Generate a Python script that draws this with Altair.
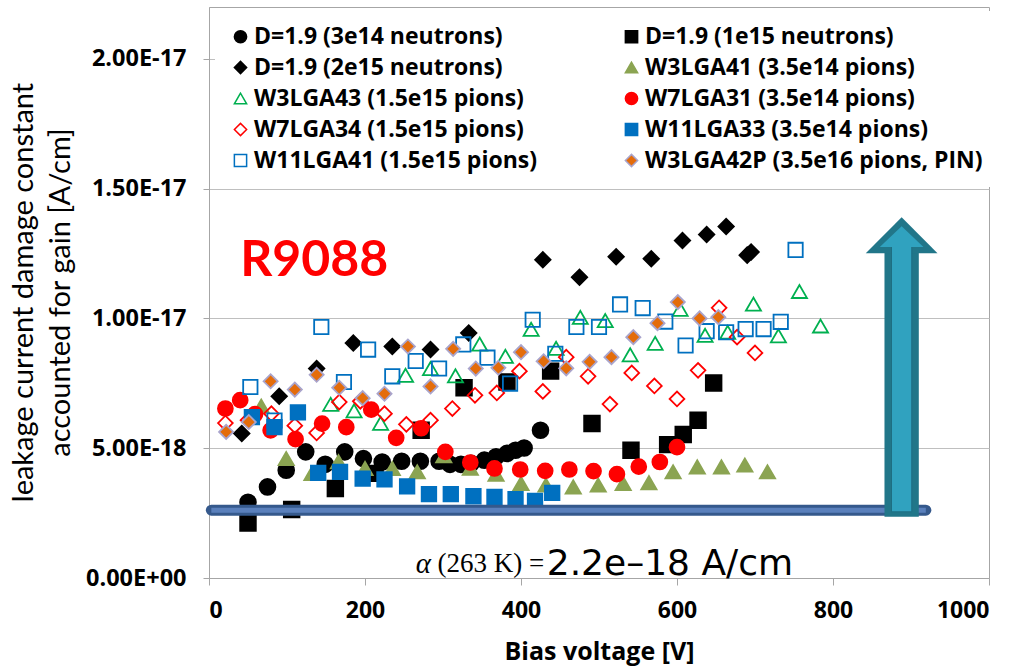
import altair as alt
import pandas as pd

# ---------------- data (values in units of 1e-18 A/cm) ----------------
series_names = [
    "D=1.9 (3e14 neutrons)", "D=1.9 (1e15 neutrons)",
    "D=1.9 (2e15 neutrons)", "W3LGA41 (3.5e14 pions)",
    "W3LGA43 (1.5e15 pions)", "W7LGA31 (3.5e14 pions)",
    "W7LGA34 (1.5e15 pions)", "W11LGA33 (3.5e14 pions)",
    "W11LGA41 (1.5e15 pions)", "W3LGA42P (3.5e16 pions, PIN)",
]

s1_v = [50, 75, 99, 124, 149, 174, 198, 222, 247, 271, 295, 309, 323, 336, 353, 368, 382, 393, 404, 425]
s1_y = [2.92, 3.51, 4.15, 4.86, 4.38, 4.86, 4.60, 4.47, 4.50, 4.50, 4.50, 4.38, 4.38, 4.42, 4.54, 4.67, 4.80, 4.92, 5.01, 5.69]

s2_v = [50, 106, 162, 213, 272, 327, 382, 438, 491, 541, 588, 608, 627, 647]
s2_y = [2.12, 2.64, 3.45, 4.03, 5.69, 7.33, 7.55, 7.97, 5.95, 4.92, 5.14, 5.53, 6.08, 7.51]

s3_v = [42, 90, 138, 185, 235, 284, 333, 428, 475, 522, 567, 607, 638, 663, 690, 695]
s3_y = [5.57, 7.00, 8.07, 9.05, 8.92, 8.80, 9.44, 12.26, 11.59, 12.38, 12.30, 13.00, 13.23, 13.54, 12.44, 12.56]

s4_v = [67, 99, 132, 166, 200, 235, 267, 301, 335, 368, 400, 432, 467, 499, 531, 564, 595, 626, 657, 687, 716]
s4_y = [6.62, 4.60, 4.03, 4.48, 4.22, 4.22, 4.09, 4.71, 4.23, 4.00, 3.64, 3.58, 3.51, 3.58, 3.64, 3.67, 4.09, 4.28, 4.28, 4.35, 4.09]

s5_v = [156, 186, 220, 252, 284, 316, 347, 380, 413, 445, 476, 508, 540, 572, 604, 636, 665, 698, 730, 757, 784]
s5_y = [6.69, 6.44, 5.96, 7.81, 8.07, 7.79, 9.01, 8.54, 9.58, 8.85, 10.04, 9.92, 8.60, 9.04, 10.35, 9.35, 9.47, 10.55, 9.33, 11.04, 9.71]

s6_v = [21, 40, 59, 79, 111, 145, 176, 208, 240, 272, 303, 335, 366, 399, 431, 462, 493, 523, 551, 578, 600]
s6_y = [6.53, 6.85, 6.31, 5.69, 5.35, 5.95, 5.81, 6.49, 5.40, 5.77, 4.86, 4.45, 4.22, 4.18, 4.13, 4.18, 4.12, 4.00, 4.29, 4.47, 5.04]

s7_v = [21, 50, 80, 110, 138, 167, 194, 225, 253, 284, 312, 341, 369, 398, 428, 458, 486, 514, 542, 571, 600, 627, 654, 677, 700]
s7_y = [5.97, 6.08, 6.33, 5.87, 5.59, 6.78, 6.81, 6.33, 5.92, 6.08, 6.53, 7.04, 7.13, 7.97, 7.19, 8.51, 7.77, 6.70, 7.90, 7.40, 6.90, 8.00, 10.41, 9.28, 8.67]

s8_v = [55, 84, 114, 140, 168, 197, 225, 254, 282, 310, 339, 366, 393, 418, 440]
s8_y = [6.20, 5.81, 6.38, 4.05, 4.09, 3.83, 3.80, 3.53, 3.23, 3.23, 3.15, 3.12, 3.04, 2.97, 3.28]

s9_v = [53, 84, 144, 173, 204, 235, 265, 295, 326, 357, 386, 415, 444, 471, 500, 527, 556, 585, 611, 638, 663, 688, 711, 733, 752]
s9_y = [7.36, 6.07, 9.67, 7.55, 8.80, 7.77, 8.36, 8.07, 9.00, 8.49, 7.49, 9.95, 8.64, 9.67, 9.67, 10.54, 10.40, 9.88, 8.96, 9.51, 9.47, 9.59, 9.59, 9.87, 12.64]

s10_v = [22, 51, 79, 110, 138, 167, 197, 225, 255, 284, 313, 342, 371, 400, 429, 458, 488, 516, 544, 575, 601, 629, 653]
s10_y = [5.63, 6.01, 7.58, 7.26, 7.83, 7.33, 6.93, 7.10, 8.92, 7.38, 8.83, 8.07, 8.10, 8.70, 8.35, 8.08, 8.33, 8.51, 9.28, 9.82, 10.63, 10.00, 10.05]

x_ticks = [0, 200, 400, 600, 800, 1000]
y_ticks = [0, 5, 10, 15, 20]
y_tick_labels = ["0.00E+00", "5.00E-18", "1.00E-17", "1.50E-17", "2.00E-17"]

# styles per series
shapes = ["circle", "square", "diamond", "triangle-up", "triangle-up",
          "circle", "diamond", "square", "square", "diamond"]
fills = ["#000000", "#000000", "#000000", "#8BA452", "transparent",
         "#FF0000", "transparent", "#0070C0", "transparent", "#E46C0A"]
strokes = ["#000000", "#000000", "#000000", "#8BA452", "#00B050",
           "#FF0000", "#FF0000", "#0070C0", "#0070C0", "#A9A4CC"]
sizes = [250, 200, 270, 230, 230, 200, 220, 160, 175, 320]

# annotation: alpha reference band (data coordinates)
alpha_band = {"x": [3], "x2": [919], "y": [2.615]}

all_v = [s1_v, s2_v, s3_v, s4_v, s5_v, s6_v, s7_v, s8_v, s9_v, s10_v]
all_y = [s1_y, s2_y, s3_y, s4_y, s5_y, s6_y, s7_y, s8_y, s9_y, s10_y]
rows = []
for i, (name, vs, ys) in enumerate(zip(series_names, all_v, all_y)):
    for v, y in zip(vs, ys):
        rows.append({"series": name, "sid": i, "V": v, "val": y})
df = pd.DataFrame(rows)

font = "Lato"
font2 = "Open Sans"

legend = alt.Legend(
    title=None, orient="none", legendX=6, legendY=4, columns=2, direction="horizontal",
    columnPadding=82, rowPadding=7, padding=14, fillColor="white",
    labelFont=font2, labelFontSize=23, labelFontWeight="bold", labelColor="black",
    labelLimit=600, symbolSize=150, symbolStrokeWidth=1.5, labelOffset=2,
)

x_enc = alt.X("V:Q", scale=alt.Scale(domain=[0, 1000], nice=False),
              axis=alt.Axis(values=x_ticks, format="d", title="Bias voltage [V]", grid=False,
                            labelFont=font2, labelFontSize=23, labelFontWeight="bold",
                            labelColor="black", labelPadding=14, tickSize=7,
                            tickColor="#A6A6A6", domainColor="#A6A6A6",
                            titleFont=font2, titleFontSize=25, titleFontWeight="bold",
                            titleColor="black", titlePadding=17))
label_expr = " : ".join(
    f"datum.value == {v} ? '{t}'" for v, t in zip(y_ticks[:-1], y_tick_labels[:-1])
) + f" : '{y_tick_labels[-1]}'"
y_enc = alt.Y("val:Q", scale=alt.Scale(domain=[0, 22], nice=False),
              axis=alt.Axis(values=y_ticks, labelExpr=label_expr,
                            title=["leakage current damage constant", "accounted for  gain [A/cm]"],
                            grid=True, gridColor="#BFBFBF", gridWidth=1,
                            labelFont=font2, labelFontSize=23.5, labelFontWeight="bold",
                            labelColor="black", labelPadding=17, tickSize=6,
                            tickColor="#A6A6A6", domainColor="#A6A6A6",
                            titleFont=font, titleFontSize=29, titleFontWeight="normal",
                            titleColor="black", titleX=-186, titleY=285,
                            titleBaseline="middle", titleAlign="center", titleAngle=-90,
                            titleLineHeight=37))

points = alt.Chart(df).mark_point(filled=True, strokeWidth=1.8, opacity=1).encode(
    x=x_enc, y=y_enc,
    shape=alt.Shape("series:N", scale=alt.Scale(domain=series_names, range=shapes), legend=legend),
    fill=alt.Fill("series:N", scale=alt.Scale(domain=series_names, range=fills), legend=legend),
    stroke=alt.Stroke("series:N", scale=alt.Scale(domain=series_names, range=strokes), legend=legend),
    size=alt.Size("sid:O", scale=alt.Scale(domain=list(range(len(sizes))), range=sizes), legend=None),
)

band_df = pd.DataFrame(alpha_band)
band_outer = alt.Chart(band_df).mark_rule(color="#35598C", strokeWidth=11, strokeCap="round").encode(
    x="x:Q", x2="x2:Q", y="y:Q")
band_inner = alt.Chart(band_df).mark_rule(color="#5A80BC", strokeWidth=5).encode(
    x="x:Q", x2="x2:Q", y="y:Q")

# arrow pieces (data coordinates)
arrow_shaft = pd.DataFrame({"x": [866], "x2": [910], "y": [2.36], "y2": [12.55]})
arrow_shaft_in = pd.DataFrame({"x": [875], "x2": [901], "y": [2.55], "y2": [12.9]})
arrow_head = pd.DataFrame({"x": [842, 888, 934], "y": [12.51, 13.9, 12.51], "y2": [12.51, 12.51, 12.51]})
arrow_head_in = pd.DataFrame({"x": [860, 888, 916], "y": [12.75, 13.55, 12.75], "y2": [12.75, 12.75, 12.75]})
dark = "#217689"
light = "#30A2BF"
a1 = alt.Chart(arrow_shaft).mark_rect(color=dark).encode(x="x:Q", x2="x2:Q", y="y:Q", y2="y2:Q")
a2 = alt.Chart(arrow_head).mark_area(color=dark).encode(x="x:Q", y="y:Q", y2="y2:Q")
a3 = alt.Chart(arrow_shaft_in).mark_rect(color=light, stroke="#1E6E82", strokeWidth=1).encode(
    x="x:Q", x2="x2:Q", y="y:Q", y2="y2:Q")
a4 = alt.Chart(arrow_head_in).mark_area(color=light).encode(x="x:Q", y="y:Q", y2="y2:Q")

# text annotations
r_df = pd.DataFrame({"x": [135], "y": [12.2], "t": ["R9088"]})
r_text = alt.Chart(r_df).mark_text(font=font, fontSize=50, fontWeight="bold", color="#FF0000",
                                   align="center", baseline="middle").encode(
    x="x:Q", y="y:Q", text="t:N")
alpha_sym = pd.DataFrame({"x": [265], "y": [0.55], "t": ["α"]})
alpha_mid = pd.DataFrame({"x": [293], "y": [0.55], "t": ["(263 K) ="]})
alpha_val = pd.DataFrame({"x": [433], "y": [0.55], "t": ["2.2e\u201318 A/cm"]})
t1 = alt.Chart(alpha_sym).mark_text(font="Liberation Serif", fontSize=29, fontStyle="italic",
                                    align="left", baseline="middle", color="black").encode(
    x="x:Q", y="y:Q", text="t:N")
t2 = alt.Chart(alpha_mid).mark_text(font="Liberation Serif", fontSize=27,
                                    align="left", baseline="middle", color="black").encode(
    x="x:Q", y="y:Q", text="t:N")
t3 = alt.Chart(alpha_val).mark_text(font="DejaVu Sans", fontSize=36,
                                    align="left", baseline="middle", color="black").encode(
    x="x:Q", y="y:Q", text="t:N")

chart = alt.layer(points, band_outer, band_inner, a1, a2, a3, a4, r_text, t1, t2, t3).properties(
    width=780, height=571,
    autosize=alt.AutoSizeParams(type="none"),
    padding={"left": 209, "top": 7, "right": 26, "bottom": 88},
).configure_view(stroke="#A6A6A6", strokeWidth=1)

chart.save("out.html", embed_options={"renderer": "svg", "actions": False})
